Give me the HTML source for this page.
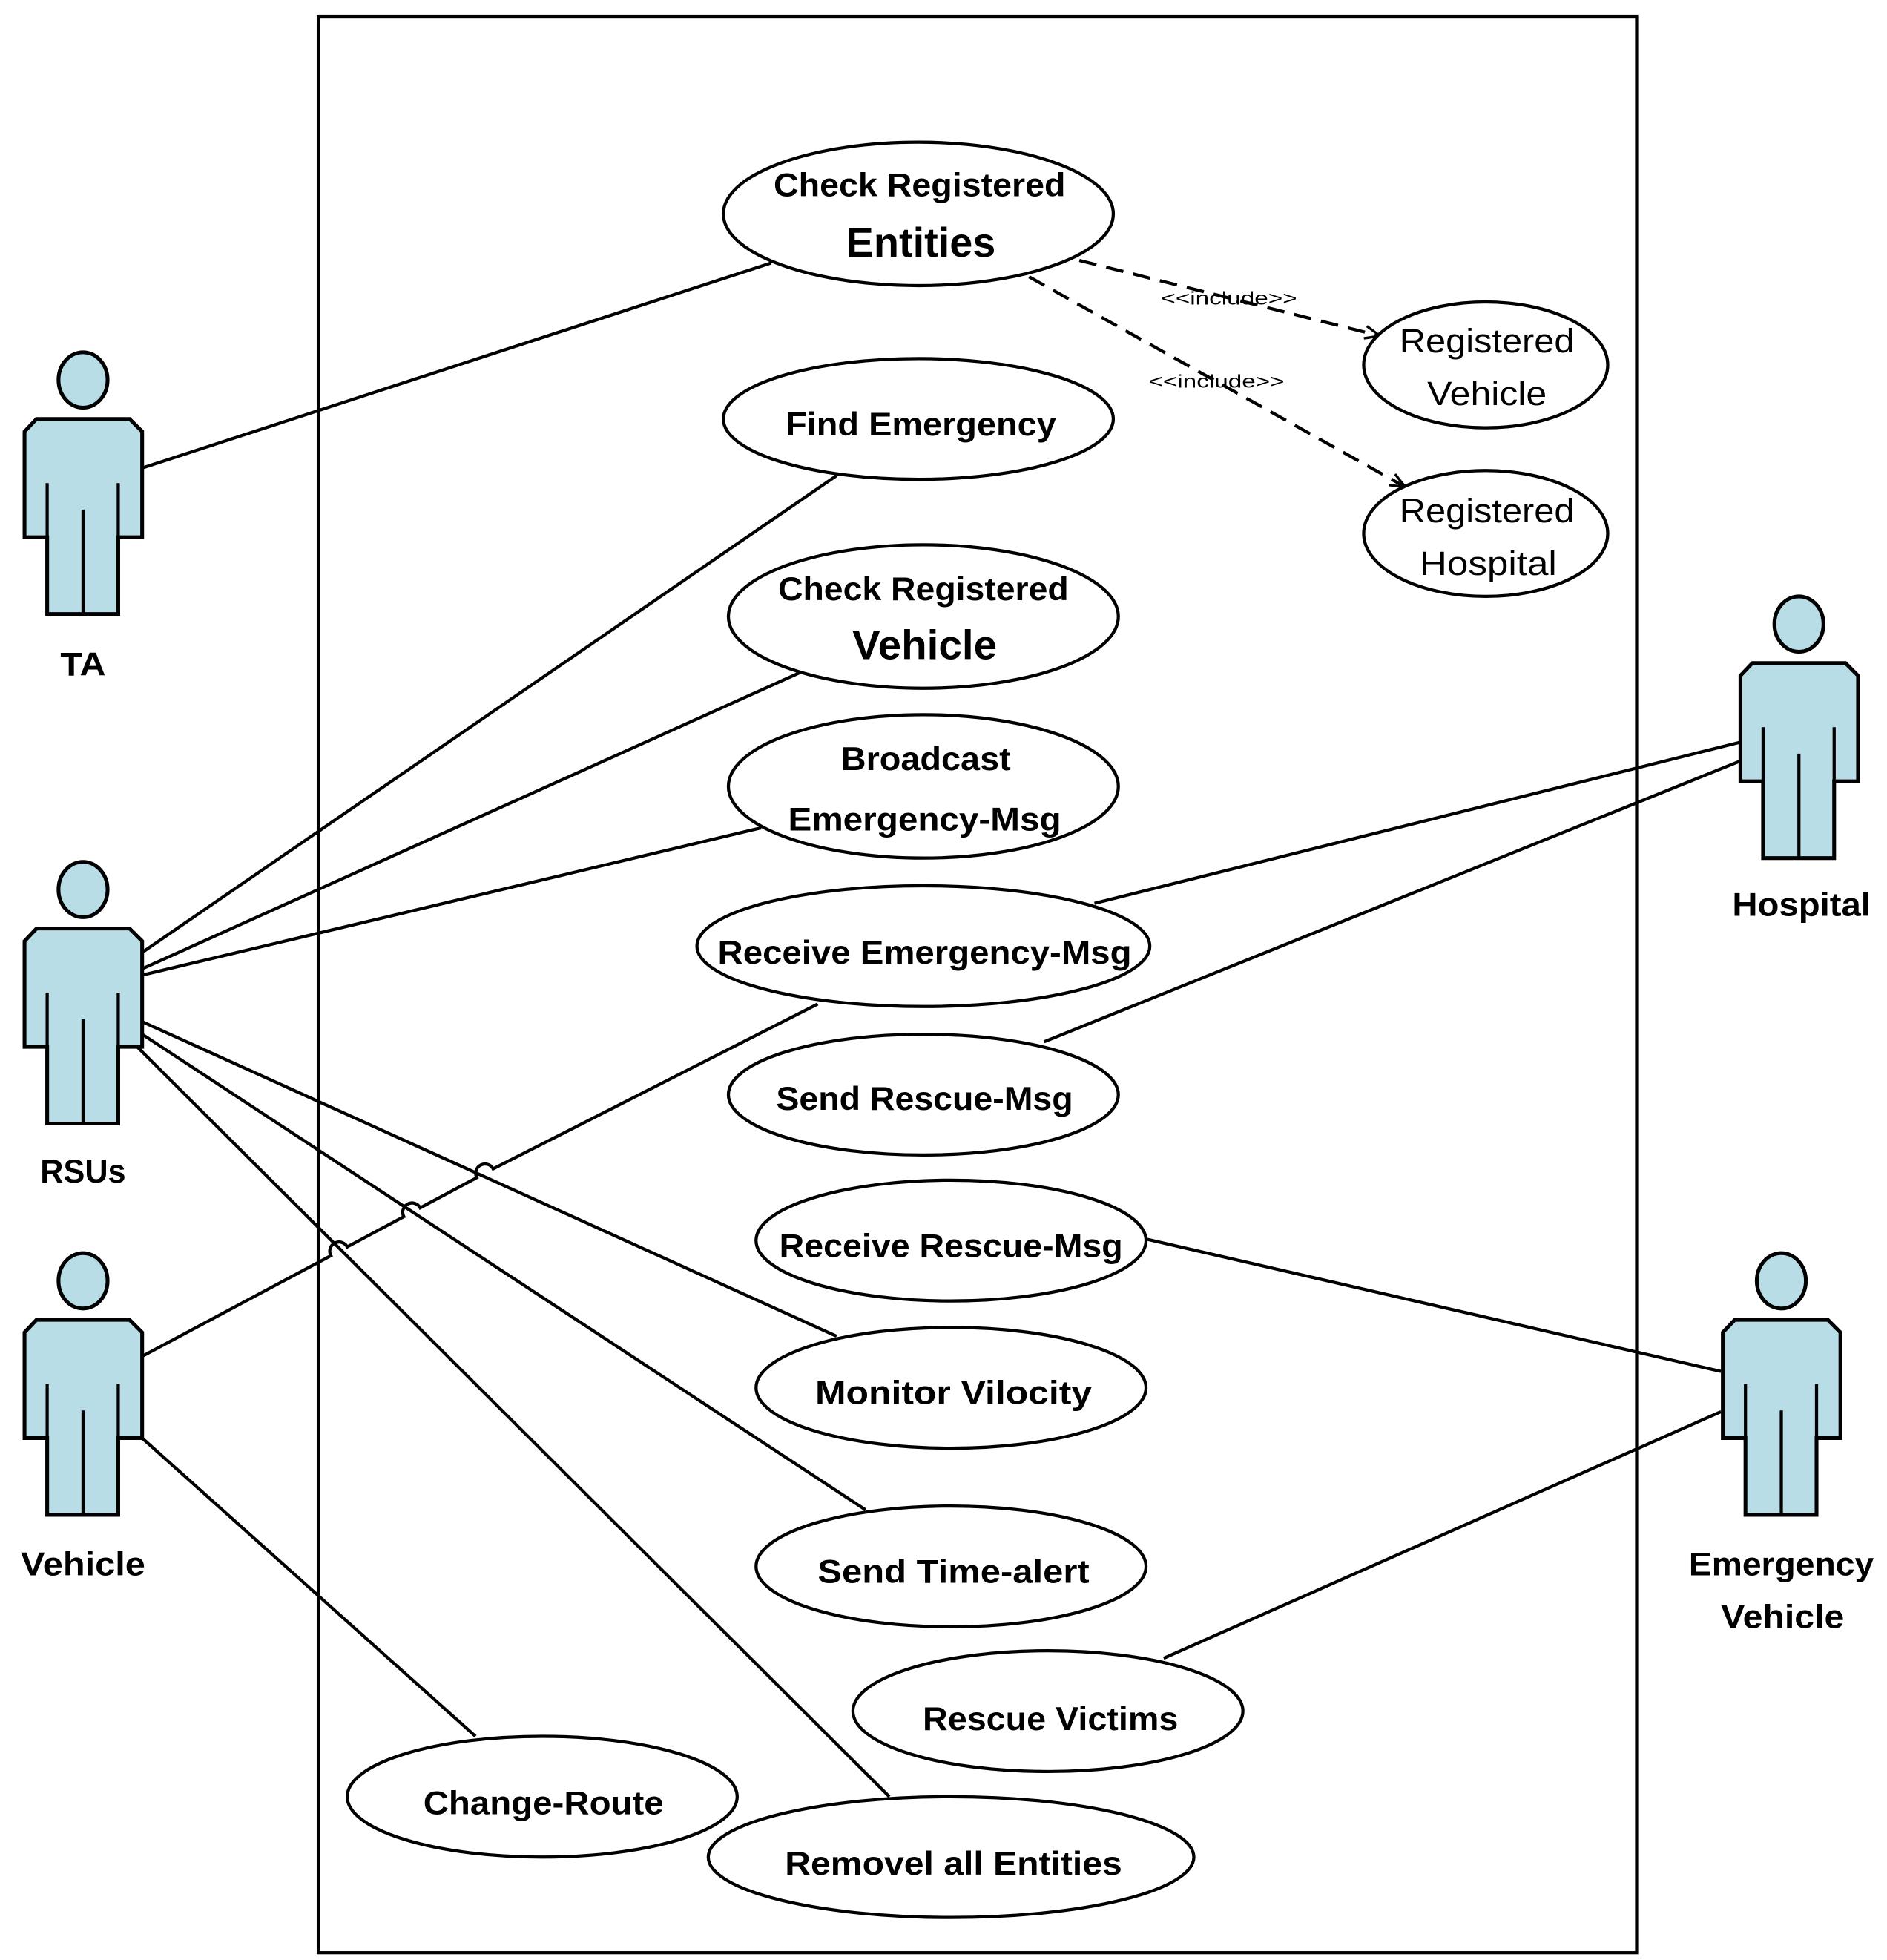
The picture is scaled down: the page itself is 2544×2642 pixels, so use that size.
<!DOCTYPE html>
<html><head><meta charset="utf-8"><style>html,body{margin:0;padding:0;background:#fff}svg{display:block}</style></head>
<body>
<svg width="2544" height="2642" viewBox="0 0 1500 1557.8" xmlns="http://www.w3.org/2000/svg" font-family="'Liberation Sans', sans-serif">
<defs>
<g id="actor">
<path d="M-37,31 L37,31 L47,41 L47,125 L28,125 L28,186 L-28.5,186 L-28.5,125 L-46.5,125 L-46.5,41 Z" fill="#b8dde6" stroke="#000" stroke-width="3"/>
<ellipse cx="0" cy="0" rx="19.5" ry="22" fill="#b8dde6" stroke="#000" stroke-width="3"/>
<line x1="-28.5" y1="82" x2="-28.5" y2="125" stroke="#000" stroke-width="2.5"/>
<line x1="28" y1="82" x2="28" y2="125" stroke="#000" stroke-width="2.5"/>
<line x1="0" y1="103" x2="0" y2="186" stroke="#000" stroke-width="2.5"/>
</g>
<marker id="arr" markerWidth="14" markerHeight="12" refX="13" refY="6" orient="auto" markerUnits="userSpaceOnUse">
<path d="M1,1 L13,6 L1,11" fill="none" stroke="#000" stroke-width="2"/>
</marker>
</defs>
<rect x="253" y="13" width="1048" height="1539" fill="none" stroke="#000" stroke-width="2.5"/>
<g stroke="#000" stroke-width="2.5" fill="none">
<line x1="113" y1="372" x2="613" y2="209"/>
<line x1="113" y1="757" x2="665" y2="378"/>
<line x1="113" y1="770" x2="635" y2="535"/>
<line x1="113" y1="775" x2="605" y2="658"/>
<line x1="113" y1="812" x2="665" y2="1062"/>
<line x1="113" y1="822" x2="688" y2="1200"/>
<line x1="107" y1="830" x2="707" y2="1428"/>
<path d="M113,1078 L263,998 A7,7 0 0 1 276,991 L321,967 A7,7 0 0 1 334,960 L379,936 A7,7 0 0 1 392,929 L650,798"/>
<line x1="113" y1="1143" x2="378" y2="1380"/>
<line x1="1383" y1="590" x2="870" y2="718"/>
<line x1="1383" y1="605" x2="830" y2="828"/>
<line x1="1368" y1="1090" x2="912" y2="985"/>
<line x1="1368" y1="1122" x2="925" y2="1318"/>
<line x1="858" y1="207" x2="1097" y2="267" stroke-dasharray="14,8" marker-end="url(#arr)"/>
<line x1="818" y1="220" x2="1117" y2="387" stroke-dasharray="14,8" marker-end="url(#arr)"/>
</g>
<g fill="#fff" stroke="#000" stroke-width="2.5">
<ellipse cx="730" cy="170" rx="155" ry="57"/>
<ellipse cx="730" cy="333" rx="155" ry="48"/>
<ellipse cx="734" cy="490" rx="155" ry="57"/>
<ellipse cx="734" cy="625" rx="155" ry="57"/>
<ellipse cx="734" cy="752" rx="180" ry="48"/>
<ellipse cx="734" cy="870" rx="155" ry="48"/>
<ellipse cx="756" cy="986" rx="155" ry="48"/>
<ellipse cx="756" cy="1103" rx="155" ry="48"/>
<ellipse cx="756" cy="1245" rx="155" ry="48"/>
<ellipse cx="833" cy="1360" rx="155" ry="48"/>
<ellipse cx="431" cy="1428" rx="155" ry="48"/>
<ellipse cx="756" cy="1476" rx="193" ry="48"/>
<ellipse cx="1181" cy="290" rx="97" ry="50"/>
<ellipse cx="1181" cy="424" rx="97" ry="50"/>
</g>
<use href="#actor" x="66" y="302"/>
<use href="#actor" x="66" y="707"/>
<use href="#actor" x="66" y="1018"/>
<use href="#actor" x="1430" y="496"/>
<use href="#actor" x="1416" y="1018"/>
<g font-weight="bold" font-size="26" text-anchor="middle" fill="#000" lengthAdjust="spacingAndGlyphs">
<text x="731" y="156" textLength="232" lengthAdjust="spacingAndGlyphs">Check Registered</text>
<text x="732" y="204" font-size="33" textLength="119" lengthAdjust="spacingAndGlyphs">Entities</text>
<text x="732" y="346" textLength="215" lengthAdjust="spacingAndGlyphs">Find Emergency</text>
<text x="734" y="477" textLength="231" lengthAdjust="spacingAndGlyphs">Check Registered</text>
<text x="735" y="524" font-size="33" textLength="115" lengthAdjust="spacingAndGlyphs">Vehicle</text>
<text x="736" y="612" textLength="135" lengthAdjust="spacingAndGlyphs">Broadcast</text>
<text x="735" y="660" textLength="217" lengthAdjust="spacingAndGlyphs">Emergency-Msg</text>
<text x="735" y="766" textLength="329" lengthAdjust="spacingAndGlyphs">Receive Emergency-Msg</text>
<text x="735" y="882" textLength="236" lengthAdjust="spacingAndGlyphs">Send Rescue-Msg</text>
<text x="756" y="999" textLength="273" lengthAdjust="spacingAndGlyphs">Receive Rescue-Msg</text>
<text x="758" y="1116" textLength="220" lengthAdjust="spacingAndGlyphs">Monitor Vilocity</text>
<text x="758" y="1258" textLength="216" lengthAdjust="spacingAndGlyphs">Send Time-alert</text>
<text x="835" y="1375" textLength="203" lengthAdjust="spacingAndGlyphs">Rescue Victims</text>
<text x="432" y="1442" textLength="191" lengthAdjust="spacingAndGlyphs">Change-Route</text>
<text x="758" y="1490" textLength="268" lengthAdjust="spacingAndGlyphs">Removel all Entities</text>
<text x="66" y="537" textLength="36" lengthAdjust="spacingAndGlyphs">TA</text>
<text x="66" y="940" textLength="68" lengthAdjust="spacingAndGlyphs">RSUs</text>
<text x="66" y="1252" textLength="99" lengthAdjust="spacingAndGlyphs">Vehicle</text>
<text x="1432" y="728" textLength="110" lengthAdjust="spacingAndGlyphs">Hospital</text>
<text x="1416" y="1252" textLength="147" lengthAdjust="spacingAndGlyphs">Emergency</text>
<text x="1417" y="1294" textLength="98" lengthAdjust="spacingAndGlyphs">Vehicle</text>
</g>
<g font-size="27" text-anchor="middle" fill="#000">
<text x="1182" y="280" textLength="139" lengthAdjust="spacingAndGlyphs">Registered</text>
<text x="1182" y="322" textLength="95" lengthAdjust="spacingAndGlyphs">Vehicle</text>
<text x="1182" y="415" textLength="139" lengthAdjust="spacingAndGlyphs">Registered</text>
<text x="1183" y="457" textLength="109" lengthAdjust="spacingAndGlyphs">Hospital</text>
</g>
<g font-size="15" text-anchor="middle" fill="#000">
<text x="977" y="242" textLength="108" lengthAdjust="spacingAndGlyphs">&lt;&lt;include&gt;&gt;</text>
<text x="967" y="308" textLength="108" lengthAdjust="spacingAndGlyphs">&lt;&lt;include&gt;&gt;</text>
</g>
</svg>
</body></html>
